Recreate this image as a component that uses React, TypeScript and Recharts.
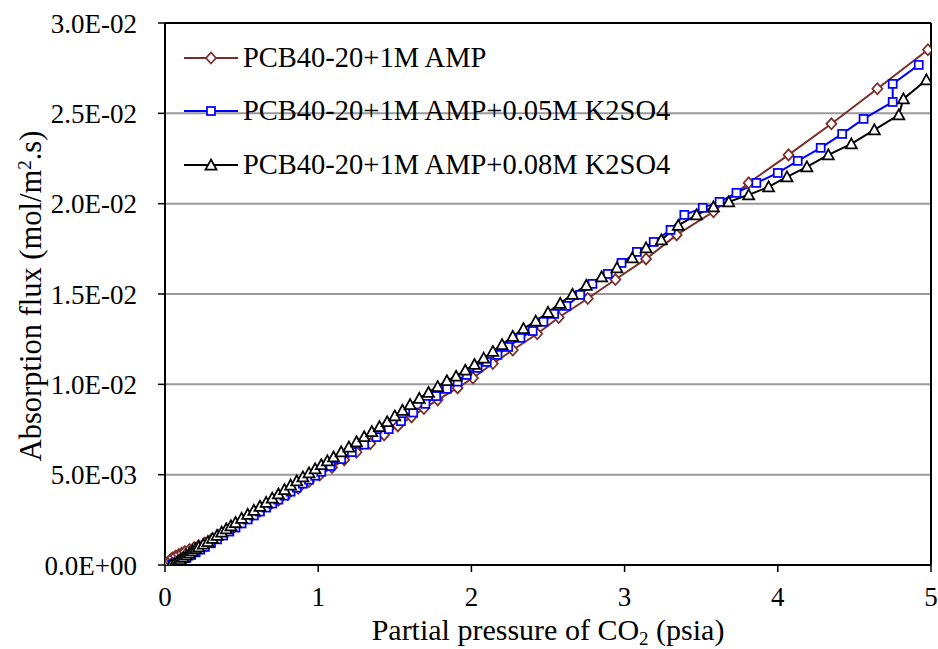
import React from 'react';
import { LineChart, Line, XAxis, YAxis, CartesianGrid, ReferenceLine, Legend } from 'recharts';

const FONT = '"Liberation Serif", "Times New Roman", serif';
const BROWN = '#7A2E29';
const BLUE = '#0000FF';
const BLACK = '#000000';

// PCB40-20+1M AMP
const ampP = [0.01, 0.02, 0.03, 0.04, 0.05, 0.07, 0.09, 0.11, 0.13, 0.16, 0.19, 0.22, 0.26, 0.30, 0.35, 0.40, 0.45, 0.50, 0.56, 0.62, 0.68, 0.74, 0.80, 0.87, 0.94, 1.01, 1.09, 1.17, 1.25, 1.34, 1.43, 1.52, 1.61, 1.69, 1.78, 1.91, 2.01, 2.14, 2.27, 2.43, 2.57, 2.76, 2.94, 3.14, 3.34, 3.58, 3.81, 4.07, 4.35, 4.65, 4.98];
const ampFlux = [0.05e-3, 0.15e-3, 0.25e-3, 0.33e-3, 0.40e-3, 0.50e-3, 0.58e-3, 0.66e-3, 0.74e-3, 0.85e-3, 0.96e-3, 1.07e-3, 1.22e-3, 1.40e-3, 1.63e-3, 1.87e-3, 2.12e-3, 2.38e-3, 2.68e-3, 2.98e-3, 3.28e-3, 3.59e-3, 3.90e-3, 4.25e-3, 4.62e-3, 4.98e-3, 5.40e-3, 5.82e-3, 6.24e-3, 6.72e-3, 7.20e-3, 7.70e-3, 8.20e-3, 8.66e-3, 9.14e-3, 9.80e-3, 10.35e-3, 11.15e-3, 11.90e-3, 12.80e-3, 13.70e-3, 14.75e-3, 15.80e-3, 16.94e-3, 18.27e-3, 19.55e-3, 21.15e-3, 22.70e-3, 24.42e-3, 26.36e-3, 28.52e-3];

// PCB40-20+1M AMP+0.05M K2SO4
const k005P = [0.05, 0.08, 0.11, 0.14, 0.17, 0.20, 0.23, 0.26, 0.30, 0.34, 0.38, 0.42, 0.46, 0.50, 0.54, 0.58, 0.62, 0.66, 0.70, 0.74, 0.78, 0.82, 0.86, 0.90, 0.94, 0.98, 1.02, 1.08, 1.15, 1.22, 1.30, 1.38, 1.46, 1.54, 1.62, 1.70, 1.77, 1.84, 1.91, 1.97, 2.04, 2.10, 2.17, 2.24, 2.32, 2.40, 2.47, 2.54, 2.62, 2.71, 2.79, 2.89, 2.98, 3.08, 3.19, 3.30, 3.39, 3.51, 3.62, 3.73, 3.86, 4.00, 4.13, 4.28, 4.42, 4.56, 4.75, 4.75, 4.92];
const k005Flux = [0.02e-3, 0.12e-3, 0.25e-3, 0.40e-3, 0.55e-3, 0.70e-3, 0.85e-3, 1.00e-3, 1.20e-3, 1.42e-3, 1.63e-3, 1.85e-3, 2.07e-3, 2.30e-3, 2.52e-3, 2.74e-3, 2.96e-3, 3.18e-3, 3.40e-3, 3.62e-3, 3.84e-3, 4.06e-3, 4.28e-3, 4.50e-3, 4.72e-3, 4.94e-3, 5.16e-3, 5.48e-3, 5.86e-3, 6.25e-3, 6.66e-3, 7.08e-3, 7.52e-3, 7.96e-3, 8.44e-3, 8.92e-3, 9.35e-3, 9.75e-3, 10.15e-3, 10.52e-3, 10.91e-3, 11.24e-3, 11.63e-3, 12.07e-3, 12.57e-3, 12.95e-3, 13.46e-3, 13.90e-3, 14.34e-3, 14.95e-3, 15.56e-3, 16.11e-3, 16.72e-3, 17.33e-3, 17.88e-3, 18.55e-3, 19.38e-3, 19.77e-3, 20.10e-3, 20.60e-3, 21.15e-3, 21.70e-3, 22.37e-3, 23.09e-3, 23.86e-3, 24.69e-3, 25.63e-3, 26.63e-3, 27.68e-3];

// PCB40-20+1M AMP+0.08M K2SO4
const k008P = [0.04, 0.06, 0.08, 0.10, 0.12, 0.14, 0.16, 0.18, 0.20, 0.22, 0.25, 0.28, 0.31, 0.34, 0.37, 0.40, 0.43, 0.46, 0.50, 0.54, 0.58, 0.62, 0.66, 0.70, 0.74, 0.78, 0.82, 0.86, 0.90, 0.94, 0.98, 1.02, 1.06, 1.10, 1.15, 1.20, 1.25, 1.30, 1.35, 1.40, 1.45, 1.50, 1.55, 1.60, 1.66, 1.72, 1.78, 1.84, 1.90, 1.96, 2.02, 2.08, 2.14, 2.20, 2.27, 2.34, 2.42, 2.50, 2.58, 2.66, 2.75, 2.85, 2.95, 3.05, 3.14, 3.24, 3.35, 3.47, 3.58, 3.68, 3.81, 3.94, 4.06, 4.19, 4.33, 4.48, 4.63, 4.79, 4.82, 4.97];
const k008Flux = [0.02e-3, 0.08e-3, 0.18e-3, 0.30e-3, 0.42e-3, 0.54e-3, 0.66e-3, 0.78e-3, 0.90e-3, 1.00e-3, 1.15e-3, 1.30e-3, 1.47e-3, 1.64e-3, 1.82e-3, 2.00e-3, 2.17e-3, 2.35e-3, 2.58e-3, 2.80e-3, 3.03e-3, 3.25e-3, 3.47e-3, 3.70e-3, 3.93e-3, 4.17e-3, 4.42e-3, 4.66e-3, 4.88e-3, 5.10e-3, 5.32e-3, 5.55e-3, 5.76e-3, 5.98e-3, 6.26e-3, 6.53e-3, 6.82e-3, 7.10e-3, 7.38e-3, 7.66e-3, 7.93e-3, 8.25e-3, 8.56e-3, 8.88e-3, 9.22e-3, 9.55e-3, 9.87e-3, 10.20e-3, 10.45e-3, 10.78e-3, 11.10e-3, 11.45e-3, 11.82e-3, 12.20e-3, 12.66e-3, 13.08e-3, 13.50e-3, 13.98e-3, 14.48e-3, 14.98e-3, 15.48e-3, 15.95e-3, 16.45e-3, 17.00e-3, 17.55e-3, 18.00e-3, 18.80e-3, 19.38e-3, 19.82e-3, 20.10e-3, 20.49e-3, 20.93e-3, 21.48e-3, 22.04e-3, 22.70e-3, 23.31e-3, 24.09e-3, 24.92e-3, 25.80e-3, 26.85e-3];

const xTicks = [0, 1, 2, 3, 4, 5];
const xMinorTicks = [0.2, 0.4, 0.6, 0.8, 1.2, 1.4, 1.6, 1.8, 2.2, 2.4, 2.6, 2.8, 3.2, 3.4, 3.6, 3.8, 4.2, 4.4, 4.6, 4.8];
const yTicks = [0, 0.005, 0.01, 0.015, 0.02, 0.025, 0.03];
const yMinorTicks = [0.001, 0.002, 0.003, 0.004, 0.006, 0.007, 0.008, 0.009, 0.011, 0.012, 0.013, 0.014, 0.016, 0.017, 0.018, 0.019, 0.021, 0.022, 0.023, 0.024, 0.026, 0.027, 0.028, 0.029];

const toRows = (xs: number[], ys: number[]) => xs.map((p, i) => ({ p, flux: ys[i] }));
const ampData = toRows(ampP, ampFlux);
const k005Data = toRows(k005P, k005Flux);
const k008Data = toRows(k008P, k008Flux);

const sci = (v: number) => {
  const [m, e] = v.toExponential(1).split('e');
  const n = parseInt(e, 10);
  return `${m}E${n < 0 ? '-' : '+'}${String(Math.abs(n)).padStart(2, '0')}`;
};

const diamond = (cx: number, cy: number, key?: any) => (
  <polygon key={key} points={`${cx},${cy - 5.5} ${cx + 5},${cy} ${cx},${cy + 5.5} ${cx - 5},${cy}`} fill="#fff" stroke={BROWN} strokeWidth={1.75} />
);
const square = (cx: number, cy: number, key?: any) => (
  <rect key={key} x={cx - 4} y={cy - 4} width={8} height={8} fill="#fff" stroke={BLUE} strokeWidth={1.75} />
);
const triangle = (cx: number, cy: number, key?: any) => (
  <polygon key={key} points={`${cx},${cy - 5.5} ${cx + 5.5},${cy + 4.5} ${cx - 5.5},${cy + 4.5}`} fill="#fff" stroke={BLACK} strokeWidth={1.75} />
);

const dotOf = (shape: typeof diamond) => (props: any) => {
  const { cx, cy, index } = props;
  if (cx == null || cy == null) return <g key={index} />;
  return shape(cx, cy, index);
};

const legendItems = [
  { name: 'PCB40-20+1M AMP', color: BROWN, shape: diamond },
  { name: 'PCB40-20+1M AMP+0.05M K2SO4', color: BLUE, shape: square },
  { name: 'PCB40-20+1M AMP+0.08M K2SO4', color: BLACK, shape: triangle },
];

const renderLegend = () => (
  <div style={{ fontFamily: FONT, fontSize: 28.5, color: '#000' }}>
    {legendItems.map((it) => (
      <div key={it.name} style={{ display: 'flex', alignItems: 'center', height: 53.5 }}>
        <svg width={56} height={20} style={{ overflow: 'visible' }}>
          <line x1={0} y1={10} x2={54} y2={10} stroke={it.color} strokeWidth={2} />
          {it.shape(27, 10)}
        </svg>
        <span style={{ marginLeft: 3, whiteSpace: 'nowrap' }}>{it.name}</span>
      </div>
    ))}
  </div>
);

const XTitle = () => (
  <text x={548} y={640} textAnchor="middle" fontSize={30} fontFamily={FONT} fill="#000">
    Partial pressure of CO<tspan fontSize={19} dy={5}>2</tspan>
    <tspan dy={-5}> (psia)</tspan>
  </text>
);

const YTitle = () => (
  <text transform="rotate(-90)" x={-296} y={41} textAnchor="middle" fontSize={30.5} fontFamily={FONT} fill="#000">
    Absorption flux (mol/m<tspan fontSize={19} dy={-10}>2</tspan>
    <tspan dy={10}>.s)</tspan>
  </text>
);

const tickStyle = { fill: '#000', fontSize: 27, fontFamily: FONT };

export default function App() {
  return (
    <div style={{ width: 938, height: 649, background: '#fff' }}>
      <style>{'body{margin:0}'}</style>
      <LineChart width={938} height={649} margin={{ top: 23, right: 7, bottom: 0, left: 0 }}>
        <XAxis xAxisId="minor" type="number" dataKey="p" domain={[0, 5]} ticks={xMinorTicks} height={0}
          axisLine={false} tickSize={4} tickLine={{ stroke: '#000', strokeWidth: 1.5 }} tickFormatter={() => ''} />
        <YAxis yAxisId="minor" type="number" domain={[0, 0.03]} ticks={yMinorTicks} width={0}
          axisLine={false} tickSize={4} tickLine={{ stroke: '#000', strokeWidth: 1.5 }} tickFormatter={() => ''} />
        <XAxis type="number" dataKey="p" domain={[0, 5]} ticks={xTicks} height={84} allowDataOverflow
          axisLine={{ stroke: '#000', strokeWidth: 2 }} tickLine={{ stroke: '#000', strokeWidth: 1.5 }}
          tickSize={7} tickMargin={15} tick={tickStyle} label={<XTitle />} />
        <YAxis type="number" domain={[0, 0.03]} ticks={yTicks} width={165} allowDataOverflow
          axisLine={{ stroke: '#000', strokeWidth: 2 }} tickLine={{ stroke: '#000', strokeWidth: 1.5 }}
          tickSize={7} tickMargin={21} tick={tickStyle} tickFormatter={sci} label={<YTitle />} />
        <CartesianGrid vertical={false} stroke="#9a9a9a" strokeWidth={2} />
        <ReferenceLine y={0.03} stroke="#000" strokeWidth={2} />
        <ReferenceLine x={5} stroke="#000" strokeWidth={2} />
        <Legend layout="vertical" align="center" verticalAlign="middle" content={renderLegend}
          wrapperStyle={{ top: 31, left: 184, width: 'auto' }} />
        <Line data={ampData} dataKey="flux" name="PCB40-20+1M AMP" stroke={BROWN} strokeWidth={2}
          dot={dotOf(diamond)} activeDot={false} isAnimationActive={false} />
        <Line data={k005Data} dataKey="flux" name="PCB40-20+1M AMP+0.05M K2SO4" stroke={BLUE} strokeWidth={2}
          dot={dotOf(square)} activeDot={false} isAnimationActive={false} />
        <Line data={k008Data} dataKey="flux" name="PCB40-20+1M AMP+0.08M K2SO4" stroke={BLACK} strokeWidth={2}
          dot={dotOf(triangle)} activeDot={false} isAnimationActive={false} />
      </LineChart>
    </div>
  );
}
